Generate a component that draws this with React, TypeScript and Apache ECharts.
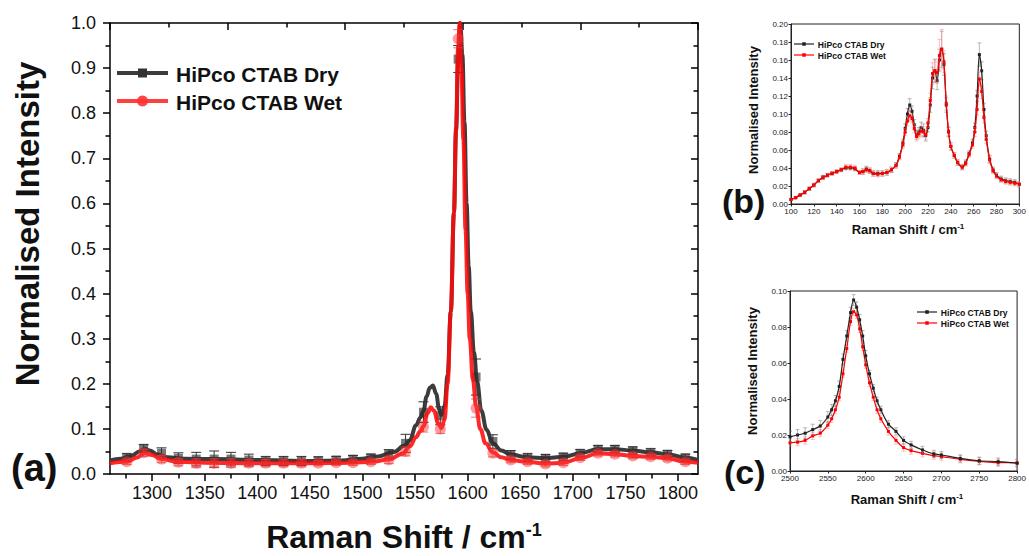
import { useEffect, useRef } from 'react';
import * as echarts from 'echarts';

const DRY = 'HiPco CTAB Dry';
const WET = 'HiPco CTAB Wet';
const FONT = 'Liberation Sans, Arial, sans-serif';

// ---------- panel (a): G band region ----------
const aDryX = [1260, 1270, 1280, 1288, 1293, 1298, 1305, 1315, 1330, 1360, 1400, 1450, 1480, 1500, 1515, 1530, 1540, 1545, 1551, 1555, 1558, 1561, 1564, 1567, 1570, 1573, 1575, 1578, 1581, 1584, 1587, 1589, 1591, 1593, 1595, 1597, 1599, 1601, 1603, 1606, 1609, 1613, 1618, 1624, 1632, 1641, 1657, 1674, 1691, 1707, 1724, 1740, 1757, 1774, 1790, 1807, 1819];
const aDryY = [0.030, 0.034, 0.040, 0.050, 0.056, 0.052, 0.043, 0.037, 0.034, 0.033, 0.031, 0.029, 0.030, 0.034, 0.039, 0.049, 0.063, 0.075, 0.108, 0.125, 0.140, 0.172, 0.191, 0.196, 0.178, 0.143, 0.131, 0.150, 0.22, 0.36, 0.58, 0.76, 0.92, 1.0, 0.93, 0.78, 0.60, 0.46, 0.36, 0.27, 0.205, 0.14, 0.098, 0.068, 0.052, 0.043, 0.037, 0.035, 0.038, 0.046, 0.055, 0.055, 0.052, 0.048, 0.044, 0.036, 0.031];
const aWetX = [1260, 1276, 1285, 1293, 1300, 1309, 1325, 1350, 1400, 1450, 1490, 1508, 1525, 1538, 1545, 1551, 1555, 1558, 1562, 1565, 1568, 1572, 1575, 1578, 1581, 1584, 1587, 1589, 1591, 1592.5, 1594, 1596, 1598, 1600, 1602, 1605, 1608, 1612, 1617, 1624, 1632, 1641, 1657, 1674, 1691, 1707, 1724, 1740, 1757, 1774, 1790, 1807, 1819];
const aWetY = [0.024, 0.027, 0.036, 0.046, 0.042, 0.033, 0.027, 0.025, 0.024, 0.024, 0.025, 0.027, 0.032, 0.045, 0.061, 0.082, 0.095, 0.106, 0.135, 0.148, 0.140, 0.112, 0.102, 0.120, 0.20, 0.36, 0.58, 0.77, 0.95, 1.0, 0.90, 0.74, 0.54, 0.40, 0.30, 0.21, 0.150, 0.10, 0.068, 0.048, 0.037, 0.031, 0.027, 0.023, 0.025, 0.035, 0.046, 0.044, 0.040, 0.038, 0.035, 0.027, 0.025];
const aMarkX = [1276, 1292, 1309, 1325, 1342, 1359, 1375, 1392, 1408, 1425, 1442, 1458, 1475, 1491, 1508, 1525, 1541, 1558, 1574, 1591, 1608, 1624, 1641, 1657, 1674, 1691, 1707, 1724, 1740, 1757, 1774, 1790, 1807];
const aMarkDry = [0.037, 0.057, 0.046, 0.035, 0.033, 0.033, 0.033, 0.031, 0.029, 0.029, 0.029, 0.030, 0.031, 0.033, 0.036, 0.044, 0.068, 0.137, 0.129, 0.920, 0.215, 0.072, 0.042, 0.037, 0.035, 0.038, 0.046, 0.055, 0.055, 0.052, 0.048, 0.044, 0.036];
const aErrDry = [0.008, 0.008, 0.012, 0.012, 0.015, 0.018, 0.015, 0.013, 0.010, 0.010, 0.010, 0.008, 0.008, 0.008, 0.008, 0.010, 0.020, 0.023, 0.020, 0.030, 0.040, 0.015, 0.010, 0.008, 0.008, 0.008, 0.008, 0.008, 0.008, 0.008, 0.008, 0.008, 0.008];
const aMarkWet = [0.027, 0.047, 0.033, 0.026, 0.024, 0.024, 0.024, 0.024, 0.024, 0.024, 0.024, 0.024, 0.025, 0.025, 0.027, 0.031, 0.050, 0.105, 0.100, 0.965, 0.146, 0.046, 0.031, 0.027, 0.022, 0.025, 0.036, 0.046, 0.044, 0.040, 0.038, 0.035, 0.027];
const aErrWet = [0.006, 0.008, 0.008, 0.008, 0.010, 0.010, 0.010, 0.008, 0.008, 0.008, 0.008, 0.006, 0.006, 0.006, 0.006, 0.008, 0.010, 0.012, 0.010, 0.020, 0.020, 0.008, 0.006, 0.006, 0.006, 0.006, 0.006, 0.006, 0.006, 0.006, 0.006, 0.006, 0.006];
const aTicks = [1300, 1350, 1400, 1450, 1500, 1550, 1600, 1650, 1700, 1750, 1800];
const aMinorTicks = [1275, 1325, 1375, 1425, 1475, 1525, 1575, 1625, 1675, 1725, 1775];

// ---------- panel (b): RBM region ----------
const bX = [100, 104, 108, 112, 116, 120, 124, 128, 132, 136, 140, 144, 148, 152, 156, 160, 163, 166, 169, 172, 176, 180, 184, 188, 192, 195, 198, 200, 202, 204, 206, 208, 210, 212, 214, 216, 218, 220, 222, 224, 226, 228, 230, 232, 234, 236, 238, 240, 243, 246, 250, 253, 256, 259, 261, 263, 265, 267, 269, 271, 274, 277, 280, 284, 288, 292, 296, 300];
const bDry = [0.005, 0.007, 0.010, 0.013, 0.017, 0.021, 0.026, 0.030, 0.032, 0.034, 0.036, 0.038, 0.040, 0.040, 0.039, 0.035, 0.036, 0.039, 0.037, 0.034, 0.034, 0.034, 0.035, 0.038, 0.043, 0.053, 0.068, 0.084, 0.100, 0.110, 0.103, 0.088, 0.077, 0.080, 0.085, 0.082, 0.076, 0.085, 0.110, 0.140, 0.148, 0.137, 0.160, 0.172, 0.155, 0.110, 0.080, 0.064, 0.054, 0.046, 0.041, 0.046, 0.056, 0.068, 0.085, 0.120, 0.166, 0.148, 0.105, 0.076, 0.050, 0.038, 0.032, 0.028, 0.026, 0.025, 0.024, 0.022];
const bWet = [0.005, 0.007, 0.010, 0.013, 0.017, 0.021, 0.026, 0.029, 0.032, 0.034, 0.036, 0.038, 0.041, 0.041, 0.040, 0.035, 0.036, 0.038, 0.037, 0.034, 0.033, 0.034, 0.035, 0.038, 0.043, 0.052, 0.066, 0.080, 0.092, 0.098, 0.095, 0.084, 0.075, 0.078, 0.081, 0.080, 0.077, 0.090, 0.115, 0.145, 0.148, 0.146, 0.165, 0.172, 0.158, 0.112, 0.081, 0.064, 0.054, 0.046, 0.041, 0.045, 0.055, 0.066, 0.080, 0.105, 0.139, 0.125, 0.096, 0.072, 0.049, 0.037, 0.031, 0.027, 0.025, 0.024, 0.023, 0.022];
const bErrDry = [0.001, 0.001, 0.001, 0.002, 0.002, 0.002, 0.002, 0.002, 0.002, 0.002, 0.002, 0.002, 0.002, 0.002, 0.002, 0.002, 0.003, 0.003, 0.003, 0.003, 0.003, 0.003, 0.003, 0.003, 0.003, 0.003, 0.004, 0.005, 0.006, 0.007, 0.006, 0.006, 0.005, 0.005, 0.006, 0.007, 0.006, 0.005, 0.008, 0.012, 0.013, 0.010, 0.012, 0.020, 0.012, 0.008, 0.005, 0.004, 0.003, 0.003, 0.003, 0.003, 0.003, 0.004, 0.005, 0.006, 0.013, 0.010, 0.007, 0.005, 0.004, 0.003, 0.003, 0.003, 0.003, 0.003, 0.003, 0.003];
const bErrWet = [0.001, 0.001, 0.001, 0.002, 0.002, 0.002, 0.002, 0.002, 0.002, 0.002, 0.002, 0.002, 0.003, 0.003, 0.003, 0.002, 0.003, 0.003, 0.003, 0.003, 0.003, 0.003, 0.003, 0.003, 0.003, 0.003, 0.004, 0.004, 0.005, 0.006, 0.005, 0.005, 0.005, 0.005, 0.005, 0.006, 0.005, 0.005, 0.008, 0.012, 0.012, 0.012, 0.018, 0.022, 0.012, 0.008, 0.005, 0.004, 0.003, 0.003, 0.003, 0.003, 0.003, 0.004, 0.005, 0.006, 0.008, 0.008, 0.006, 0.005, 0.004, 0.003, 0.003, 0.003, 0.003, 0.003, 0.003, 0.003];

// ---------- panel (c): 2D band region ----------
const cX = [2500, 2510, 2520, 2530, 2540, 2550, 2555, 2560, 2565, 2570, 2575, 2580, 2584, 2588, 2592, 2596, 2600, 2605, 2610, 2615, 2620, 2630, 2640, 2650, 2660, 2675, 2690, 2700, 2725, 2750, 2775, 2800];
const cDry = [0.019, 0.020, 0.021, 0.023, 0.025, 0.030, 0.034, 0.039, 0.047, 0.062, 0.075, 0.088, 0.095, 0.091, 0.084, 0.075, 0.064, 0.054, 0.046, 0.039, 0.034, 0.026, 0.022, 0.017, 0.0145, 0.0117, 0.0095, 0.0089, 0.0070, 0.0057, 0.0052, 0.0043];
const cWet = [0.0157, 0.016, 0.017, 0.0195, 0.021, 0.0255, 0.029, 0.034, 0.041, 0.054, 0.068, 0.083, 0.0885, 0.0867, 0.079, 0.069, 0.059, 0.049, 0.041, 0.034, 0.029, 0.022, 0.017, 0.013, 0.0113, 0.0098, 0.0085, 0.0080, 0.0065, 0.0054, 0.0046, 0.0046];
const cErrDry = [0.003, 0.003, 0.003, 0.003, 0.003, 0.003, 0.003, 0.003, 0.003, 0.003, 0.003, 0.003, 0.003, 0.003, 0.003, 0.003, 0.003, 0.002, 0.002, 0.002, 0.002, 0.002, 0.002, 0.002, 0.002, 0.002, 0.002, 0.002, 0.002, 0.002, 0.002, 0.002];
const cErrWet = [0.002, 0.002, 0.002, 0.002, 0.002, 0.002, 0.002, 0.002, 0.002, 0.002, 0.002, 0.002, 0.002, 0.002, 0.002, 0.002, 0.002, 0.002, 0.002, 0.002, 0.002, 0.002, 0.002, 0.002, 0.002, 0.002, 0.002, 0.002, 0.002, 0.002, 0.002, 0.002];

const pairs = (xs: number[], ys: number[]) => xs.map((x, i) => [x, ys[i]]);
const errData = (xs: number[], ys: number[], es: number[]) => xs.map((x, i) => [x, ys[i] - es[i], ys[i] + es[i]]);

const errRender = (color: string, cap: number, width: number) => (_params: any, api: any) => {
  const x = api.value(0);
  const top = api.coord([x, api.value(2)]);
  const bot = api.coord([x, api.value(1)]);
  const style = { stroke: color, lineWidth: width };
  return {
    type: 'group',
    children: [
      { type: 'line', shape: { x1: top[0], y1: top[1], x2: bot[0], y2: bot[1] }, style },
      { type: 'line', shape: { x1: top[0] - cap, y1: top[1], x2: top[0] + cap, y2: top[1] }, style },
      { type: 'line', shape: { x1: bot[0] - cap, y1: bot[1], x2: bot[0] + cap, y2: bot[1] }, style },
    ],
  };
};

const errSeries = (name: string, xi: number, yi: number, data: number[][], color: string, cap: number, width: number, z: number) => ({
  type: 'custom',
  name,
  xAxisIndex: xi,
  yAxisIndex: yi,
  data,
  encode: { x: 0, y: [1, 2] },
  renderItem: errRender(color, cap, width),
  clip: true,
  silent: true,
  z,
});

const supTitle = (x: number, y: number, size: number, supSize: number, rotation = 0) => ({
  type: 'text',
  x,
  y,
  rotation,
  style: {
    text: '{a|Raman Shift / cm}{b|-1}',
    align: 'center',
    verticalAlign: 'middle',
    rich: {
      a: { fontSize: size, fontWeight: 'bold', fontFamily: FONT, fill: '#111' },
      b: { fontSize: supSize, fontWeight: 'bold', fontFamily: FONT, fill: '#111', padding: [0, 0, size * 0.45, 0] },
    },
  },
});

const plainText = (text: string, x: number, y: number, size: number, align = 'left', rotation = 0) => ({
  type: 'text',
  x,
  y,
  rotation,
  style: { text, fontSize: size, fontWeight: 'bold', fontFamily: FONT, fill: '#111', align, verticalAlign: 'middle' },
});

const legendEntry = (x1: number, x2: number, y: number, color: string, lw: number, marker: string, ms: number, mColor: string, text: string, size: number) => {
  const cx = (x1 + x2) / 2;
  const m = marker === 'circle'
    ? { type: 'circle', shape: { cx, cy: y, r: ms / 2 }, style: { fill: mColor } }
    : { type: 'rect', shape: { x: cx - ms / 2, y: y - ms / 2, width: ms, height: ms }, style: { fill: mColor } };
  return [
    { type: 'line', shape: { x1, y1: y, x2, y2: y }, style: { stroke: color, lineWidth: lw } },
    m,
    plainText(text, x2 + 7 * (size / 21) + 1, y + 1, size),
  ];
};

const plain = (v: number) => String(v);

export default function App() {
  const ref = useRef<HTMLDivElement>(null);
  useEffect(() => {
    if (!ref.current) return;
    const chart = echarts.init(ref.current, undefined, { renderer: 'svg' });
    const axisLine = { show: true, lineStyle: { color: '#000', width: 1.5 } };
    const insetLabel = { fontSize: 8, color: '#222', fontFamily: FONT, margin: 3 };
    const option: any = {
      animation: false,
      backgroundColor: '#fff',
      grid: [
        { left: 110, top: 23, width: 588, height: 451, containLabel: false },
        { left: 791, top: 24, width: 235, height: 180, show: true, borderColor: '#222', borderWidth: 1 },
        { left: 790, top: 291, width: 236, height: 180, show: true, borderColor: '#222', borderWidth: 1 },
      ],
      xAxis: [
        {
          type: 'value', gridIndex: 0, position: 'bottom', min: 1260, max: 1819,
          axisLine, splitLine: { show: false },
          axisTick: { show: true, length: 7, customValues: aTicks, lineStyle: { color: '#000', width: 1.5 } },
          axisLabel: { customValues: aTicks, fontSize: 18, color: '#111', fontFamily: FONT, margin: 10, formatter: plain },
        },
        {
          type: 'value', gridIndex: 0, position: 'bottom', min: 1260, max: 1819,
          axisLine: { show: false }, splitLine: { show: false }, axisLabel: { show: false },
          axisTick: { show: true, length: 4.5, customValues: aMinorTicks, lineStyle: { color: '#000', width: 1.5 } },
        },
        {
          type: 'value', gridIndex: 0, position: 'top', min: 0, max: 10, interval: 2,
          axisLine, splitLine: { show: false }, axisLabel: { show: false },
          axisTick: { show: true, inside: true, length: 7, lineStyle: { color: '#000', width: 1.5 } },
          minorTick: { show: true, splitNumber: 2, length: 4.5, lineStyle: { color: '#000', width: 1.5 } },
        },
        {
          type: 'value', gridIndex: 1, min: 100, max: 300, interval: 20,
          axisLine: { show: true, lineStyle: { color: '#222', width: 1 } }, splitLine: { show: false },
          axisTick: { show: true, length: 2.5, lineStyle: { color: '#222' } },
          axisLabel: { ...insetLabel, formatter: plain },
        },
        {
          type: 'value', gridIndex: 2, min: 2500, max: 2800, interval: 50,
          axisLine: { show: true, lineStyle: { color: '#222', width: 1 } }, splitLine: { show: false },
          axisTick: { show: true, length: 2.5, lineStyle: { color: '#222' } },
          axisLabel: { ...insetLabel, formatter: plain },
        },
      ],
      yAxis: [
        {
          type: 'value', gridIndex: 0, position: 'left', min: 0, max: 1, interval: 0.1,
          axisLine, splitLine: { show: false },
          axisTick: { show: true, length: 7, lineStyle: { color: '#000', width: 1.5 } },
          minorTick: { show: true, splitNumber: 2, length: 4.5, lineStyle: { color: '#000', width: 1.5 } },
          axisLabel: { fontSize: 18, color: '#111', fontFamily: FONT, margin: 14, formatter: (v: number) => v.toFixed(1) },
        },
        {
          type: 'value', gridIndex: 0, position: 'right', min: 0, max: 1, interval: 0.1,
          axisLine, splitLine: { show: false }, axisLabel: { show: false },
          axisTick: { show: true, inside: true, length: 7, lineStyle: { color: '#000', width: 1.5 } },
          minorTick: { show: true, splitNumber: 2, length: 4.5, lineStyle: { color: '#000', width: 1.5 } },
        },
        {
          type: 'value', gridIndex: 1, min: 0, max: 0.2, interval: 0.02,
          axisLine: { show: true, lineStyle: { color: '#222', width: 1 } }, splitLine: { show: false },
          axisTick: { show: true, length: 2.5, lineStyle: { color: '#222' } },
          axisLabel: { ...insetLabel, formatter: (v: number) => v.toFixed(2) },
        },
        {
          type: 'value', gridIndex: 2, min: 0, max: 0.1, interval: 0.02,
          axisLine: { show: true, lineStyle: { color: '#222', width: 1 } }, splitLine: { show: false },
          axisTick: { show: true, length: 2.5, lineStyle: { color: '#222' } },
          axisLabel: { ...insetLabel, formatter: (v: number) => v.toFixed(2) },
        },
      ],
      series: [
        // panel a
        {
          type: 'line', name: DRY, xAxisIndex: 0, yAxisIndex: 0, data: pairs(aDryX, aDryY),
          smooth: 0.4, smoothMonotone: 'x', showSymbol: false, symbol: 'none',
          lineStyle: { color: '#3c3c3c', width: 4 }, itemStyle: { color: '#3c3c3c' }, z: 2,
        },
        {
          type: 'scatter', name: DRY + ' points', xAxisIndex: 0, yAxisIndex: 0, data: pairs(aMarkX, aMarkDry),
          symbol: 'rect', symbolSize: 9, itemStyle: { color: 'rgba(45,45,45,0.8)' }, z: 3,
        },
        errSeries('dry err a', 0, 0, errData(aMarkX, aMarkDry, aErrDry), '#333', 5, 1, 4),
        {
          type: 'line', name: WET, xAxisIndex: 0, yAxisIndex: 0, data: pairs(aWetX, aWetY),
          smooth: 0.4, smoothMonotone: 'x', showSymbol: false, symbol: 'none',
          lineStyle: { color: 'rgba(255,10,10,0.88)', width: 4 }, itemStyle: { color: '#ff2020' }, z: 5,
        },
        {
          type: 'scatter', name: WET + ' points', xAxisIndex: 0, yAxisIndex: 0, data: pairs(aMarkX, aMarkWet),
          symbol: 'circle', symbolSize: 11, itemStyle: { color: 'rgba(255,50,50,0.6)' }, z: 6,
        },
        errSeries('wet err a', 0, 0, errData(aMarkX, aMarkWet, aErrWet), 'rgba(220,60,60,0.7)', 5, 1, 7),
        // panel b
        errSeries('dry err b', 3, 2, errData(bX, bDry, bErrDry), 'rgba(110,110,110,0.6)', 2, 0.8, 2),
        {
          type: 'line', name: DRY, xAxisIndex: 3, yAxisIndex: 2, data: pairs(bX, bDry),
          smooth: 0.3, symbol: 'rect', symbolSize: 3, showSymbol: true,
          lineStyle: { color: '#222', width: 1.2 }, itemStyle: { color: '#222' }, z: 3,
        },
        errSeries('wet err b', 3, 2, errData(bX, bWet, bErrWet), 'rgba(255,120,120,0.6)', 2, 0.8, 4),
        {
          type: 'line', name: WET, xAxisIndex: 3, yAxisIndex: 2, data: pairs(bX, bWet),
          smooth: 0.3, symbol: 'rect', symbolSize: 3, showSymbol: true,
          lineStyle: { color: '#ff0000', width: 1.2 }, itemStyle: { color: '#ff0000' }, z: 5,
        },
        // panel c
        errSeries('wet err c', 4, 3, errData(cX, cWet, cErrWet), 'rgba(255,120,120,0.6)', 2, 0.8, 2),
        {
          type: 'line', name: WET, xAxisIndex: 4, yAxisIndex: 3, data: pairs(cX, cWet),
          smooth: 0.3, symbol: 'rect', symbolSize: 3, showSymbol: true,
          lineStyle: { color: '#ff0000', width: 1.2 }, itemStyle: { color: '#ff0000' }, z: 3,
        },
        errSeries('dry err c', 4, 3, errData(cX, cDry, cErrDry), 'rgba(110,110,110,0.6)', 2, 0.8, 4),
        {
          type: 'line', name: DRY, xAxisIndex: 4, yAxisIndex: 3, data: pairs(cX, cDry),
          smooth: 0.3, symbol: 'rect', symbolSize: 3, showSymbol: true,
          lineStyle: { color: '#222', width: 1.2 }, itemStyle: { color: '#222' }, z: 5,
        },
      ],
      graphic: [
        plainText('Normalised Intensity', 27, 224, 33, 'center', Math.PI / 2),
        supTitle(404, 537, 32, 18),
        plainText('(a)', 11, 468, 38),
        plainText('Normalised Intensity', 753, 110, 13, 'center', Math.PI / 2),
        supTitle(908, 229, 13, 8),
        plainText('(b)', 722, 201, 34),
        plainText('Normalised Intensity', 752, 371, 13, 'center', Math.PI / 2),
        supTitle(907, 499, 13, 8),
        plainText('(c)', 724, 472, 34),
        ...legendEntry(117, 168, 73, '#3c3c3c', 4, 'rect', 9, '#333', DRY, 21),
        ...legendEntry(117, 168, 101, 'rgba(255,30,30,0.85)', 4, 'circle', 11, 'rgba(255,50,50,0.9)', WET, 21),
        ...legendEntry(794, 814, 44, '#222', 1.2, 'rect', 3.5, '#222', DRY, 8.6),
        ...legendEntry(794, 814, 55, '#ff0000', 1.2, 'rect', 3.5, '#ff0000', WET, 8.6),
        ...legendEntry(917, 937, 312, '#222', 1.2, 'rect', 3.5, '#222', DRY, 8.6),
        ...legendEntry(917, 937, 323, '#ff0000', 1.2, 'rect', 3.5, '#ff0000', WET, 8.6),
      ],
    };
    chart.setOption(option);
    return () => chart.dispose();
  }, []);
  return <div ref={ref} style={{ position: 'fixed', left: 0, top: 0, width: 1029, height: 556 }} />;
}
